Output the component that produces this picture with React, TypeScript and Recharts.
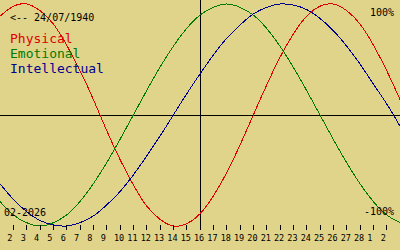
import React from 'react';
import { LineChart, Line, XAxis, YAxis, ReferenceLine } from 'recharts';

// Day offsets relative to 16/02/2026 (centre of the chart)
const days = [-15, -14, -13, -12, -11, -10, -9, -8, -7, -6, -5, -4, -3, -2, -1, 0, 1, 2, 3, 4, 5, 6, 7, 8, 9, 10, 11, 12, 13, 14, 15];
// Day-of-month labels for each offset
const dayLabels = ['1', '2', '3', '4', '5', '6', '7', '8', '9', '10', '11', '12', '13', '14', '15', '16', '17', '18', '19', '20', '21', '22', '23', '24', '25', '26', '27', '28', '1', '2', '3'];

const physical = [0.89, 0.98, 1.0, 0.94, 0.82, 0.63, 0.4, 0.14, -0.14, -0.4, -0.63, -0.82, -0.94, -1.0, -0.98, -0.89, -0.73, -0.52, -0.27, 0, 0.27, 0.52, 0.73, 0.89, 0.98, 1.0, 0.94, 0.82, 0.63, 0.4, 0.14];
const emotional = [-0.78, -0.9, -0.97, -1.0, -0.97, -0.9, -0.78, -0.62, -0.43, -0.22, 0, 0.22, 0.43, 0.62, 0.78, 0.9, 0.97, 1.0, 0.97, 0.9, 0.78, 0.62, 0.43, 0.22, 0, -0.22, -0.43, -0.62, -0.78, -0.9, -0.97];
const intellectual = [-0.62, -0.76, -0.87, -0.95, -0.99, -1.0, -0.97, -0.91, -0.81, -0.69, -0.54, -0.37, -0.19, 0, 0.19, 0.37, 0.54, 0.69, 0.81, 0.91, 0.97, 1.0, 0.99, 0.95, 0.87, 0.76, 0.62, 0.46, 0.28, 0.1, -0.1];

const tickDays = days.slice(1, -1);

const data = days.map((d, i) => ({
  d,
  physical: physical[i],
  emotional: emotional[i],
  intellectual: intellectual[i],
}));

const MONO = '"DejaVu Sans Mono", monospace';
const BG = '#E0D38A';
const RED = '#E00000';
const GREEN = '#007A00';
const BLUE = '#000090';

const DayTick = (props: any) => {
  const { x, y, payload } = props;
  const idx = days.indexOf(payload.value);
  const label = dayLabels[idx];
  return (
    <g>
      <line x1={x} x2={x} y1={y - 5} y2={y} stroke="#000" strokeWidth={1} shapeRendering="crispEdges" />
      <text x={x - 6} y={y + 11} fontSize={8.5} fontFamily={MONO} fill="#000" textAnchor="start">
        {label}
      </text>
    </g>
  );
};

export default function App() {
  return (
    <div style={{ position: 'fixed', left: 0, top: 0, width: 400, height: 250, background: BG, overflow: 'hidden' }}>
      <LineChart width={400} height={250} data={data} margin={{ top: 0, right: 0, bottom: 0, left: 0 }}>
        <XAxis
          dataKey="d"
          type="number"
          domain={[-15, 15]}
          ticks={tickDays}
          interval={0}
          height={20}
          axisLine={false}
          tickLine={false}
          tickSize={0}
          tickMargin={0}
          tick={<DayTick />}
        />
        <YAxis hide domain={[-1.036, 1.036]} allowDataOverflow />
        <ReferenceLine y={0} stroke="#000" strokeWidth={1} shapeRendering="crispEdges" />
        <ReferenceLine x={0} stroke="#000" strokeWidth={1} shapeRendering="crispEdges" />
        <Line type="natural" dataKey="physical" stroke={RED} strokeWidth={1} dot={false} activeDot={false} isAnimationActive={false} shapeRendering="crispEdges" />
        <Line type="natural" dataKey="emotional" stroke={GREEN} strokeWidth={1} dot={false} activeDot={false} isAnimationActive={false} shapeRendering="crispEdges" />
        <Line type="natural" dataKey="intellectual" stroke={BLUE} strokeWidth={1} dot={false} activeDot={false} isAnimationActive={false} shapeRendering="crispEdges" />
      </LineChart>
      <svg width={400} height={250} style={{ position: 'absolute', left: 0, top: 0, pointerEvents: 'none' }}>
        <text x={10} y={21} fontSize={10} fontFamily={MONO} fill="#000">{'<-- 24/07/1940'}</text>
        <text x={10} y={43} fontSize={13} fontFamily={MONO} fill={RED}>Physical</text>
        <text x={10} y={58} fontSize={13} fontFamily={MONO} fill={GREEN}>Emotional</text>
        <text x={10} y={73} fontSize={13} fontFamily={MONO} fill={BLUE}>Intellectual</text>
        <text x={394} y={16} fontSize={10} fontFamily={MONO} fill="#000" textAnchor="end">100%</text>
        <text x={394} y={215} fontSize={10} fontFamily={MONO} fill="#000" textAnchor="end">-100%</text>
        <text x={4} y={216} fontSize={10} fontFamily={MONO} fill="#000">02-2026</text>
      </svg>
    </div>
  );
}
